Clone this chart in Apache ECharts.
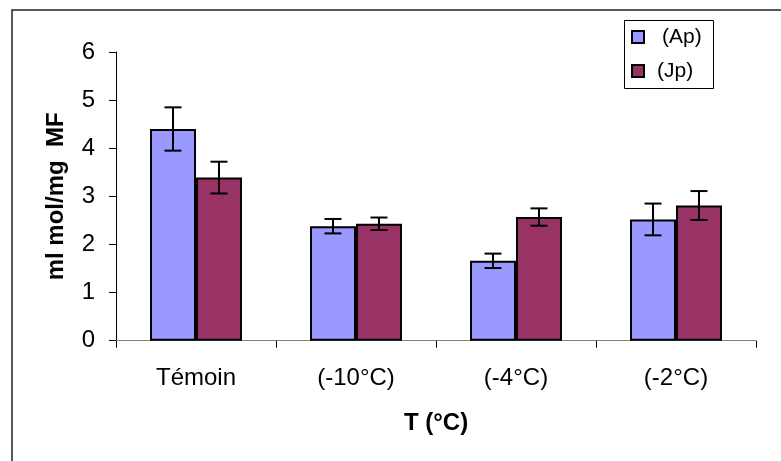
<!DOCTYPE html>
<html><head><meta charset="utf-8">
<script src="https://cdn.jsdelivr.net/npm/echarts@6/dist/echarts.min.js"></script>
<style>html,body{margin:0;padding:0;background:#fff}#c{width:781px;height:461px}</style>
</head><body><div id="c"></div>
<script>
var categories = ['Témoin', '(-10°C)', '(-4°C)', '(-2°C)'];
var seriesNames = ['(Ap)', '(Jp)'];
var apValues = [4.40, 2.38, 1.66, 2.52];
var jpValues = [3.39, 2.43, 2.57, 2.81];
var apErrors = [0.45, 0.15, 0.15, 0.33];
var jpErrors = [0.33, 0.13, 0.18, 0.30];
var yTicks = { min: 0, max: 6, interval: 1 };

var FONT = 'Liberation Sans, Arial, sans-serif';
var CAT_GAP = 0.425;
var COLORS = ['#9999FF', '#993366'];

function errData(vals, errs) {
  return vals.map(function (v, i) { return [i, v - errs[i], v + errs[i]]; });
}
function errRender(sign) {
  return function (params, api) {
    var i = api.value(0);
    var lo = api.coord([i, api.value(1)]);
    var hi = api.coord([i, api.value(2)]);
    var bw = api.size([1, 0])[0] * (1 - CAT_GAP) / 2;
    var x = lo[0] + sign * bw / 2;
    var cap = 8.5;
    var st = { stroke: '#000', lineWidth: 2 };
    return { type: 'group', children: [
      { type: 'line', shape: { x1: x, y1: lo[1], x2: x, y2: hi[1] }, style: st },
      { type: 'line', shape: { x1: x - cap, y1: lo[1], x2: x + cap, y2: lo[1] }, style: st },
      { type: 'line', shape: { x1: x - cap, y1: hi[1], x2: x + cap, y2: hi[1] }, style: st }
    ]};
  };
}

var legendGraphic = [
  { type: 'rect', shape: { x: 624.5, y: 20.5, width: 89, height: 68 },
    style: { fill: '#fff', stroke: '#000', lineWidth: 1 }, z: 10 },
  { type: 'rect', shape: { x: 632, y: 31, width: 12, height: 12 },
    style: { fill: COLORS[0], stroke: '#000', lineWidth: 2 }, z: 11 },
  { type: 'text', x: 662, y: 37.5, style: { text: seriesNames[0], font: '21px ' + FONT, fill: '#000', textVerticalAlign: 'middle' }, z: 11 },
  { type: 'rect', shape: { x: 632, y: 65, width: 12, height: 12 },
    style: { fill: COLORS[1], stroke: '#000', lineWidth: 2 }, z: 11 },
  { type: 'text', x: 657, y: 71.5, style: { text: seriesNames[1], font: '21px ' + FONT, fill: '#000', textVerticalAlign: 'middle' }, z: 11 }
];

var chart = echarts.init(document.getElementById('c'), null, { renderer: 'canvas' });
chart.setOption({
  animation: false,
  backgroundColor: '#fff',
  textStyle: { fontFamily: FONT },
  graphic: [{
    type: 'rect', shape: { x: 12, y: 10, width: 800, height: 500 },
    style: { fill: 'none', stroke: '#222', lineWidth: 1.5 }, silent: true, z: -1
  }].concat(legendGraphic),
  grid: { left: 116, right: 25, top: 52, bottom: 120.3, containLabel: false },
  xAxis: {
    type: 'category', data: categories, boundaryGap: true,
    axisLine: { lineStyle: { color: '#808080', width: 1 } },
    axisTick: { show: true, length: 7, lineStyle: { color: '#000' } },
    axisLabel: { color: '#000', fontSize: 24, fontFamily: FONT, margin: 26 },
    name: 'T (°C)', nameLocation: 'middle', nameGap: 71,
    nameTextStyle: { color: '#000', fontSize: 24, fontWeight: 'bold', fontFamily: FONT }
  },
  yAxis: {
    type: 'value', min: yTicks.min, max: yTicks.max, interval: yTicks.interval,
    axisLine: { show: true, lineStyle: { color: '#000', width: 1 } },
    axisTick: { show: true, length: 7, lineStyle: { color: '#000' } },
    splitLine: { show: false },
    axisLabel: { color: '#000', fontSize: 24, fontFamily: FONT, margin: 21 },
    name: 'ml mol/mg  MF', nameLocation: 'middle', nameGap: 48,
    nameTextStyle: { color: '#000', fontSize: 24, fontWeight: 'bold', fontFamily: FONT }
  },
  series: [
    { name: seriesNames[0], type: 'bar', data: apValues, barGap: '0%', barCategoryGap: (CAT_GAP * 100) + '%',
      itemStyle: { color: COLORS[0], borderColor: '#000', borderWidth: 2 } },
    { name: seriesNames[1], type: 'bar', data: jpValues, barGap: '0%', barCategoryGap: (CAT_GAP * 100) + '%',
      itemStyle: { color: COLORS[1], borderColor: '#000', borderWidth: 2 } },
    { type: 'custom', renderItem: errRender(-1), data: errData(apValues, apErrors), z: 5, encode: { x: 0, y: [1, 2] } },
    { type: 'custom', renderItem: errRender(1), data: errData(jpValues, jpErrors), z: 5, encode: { x: 0, y: [1, 2] } }
  ]
});
</script></body></html>
